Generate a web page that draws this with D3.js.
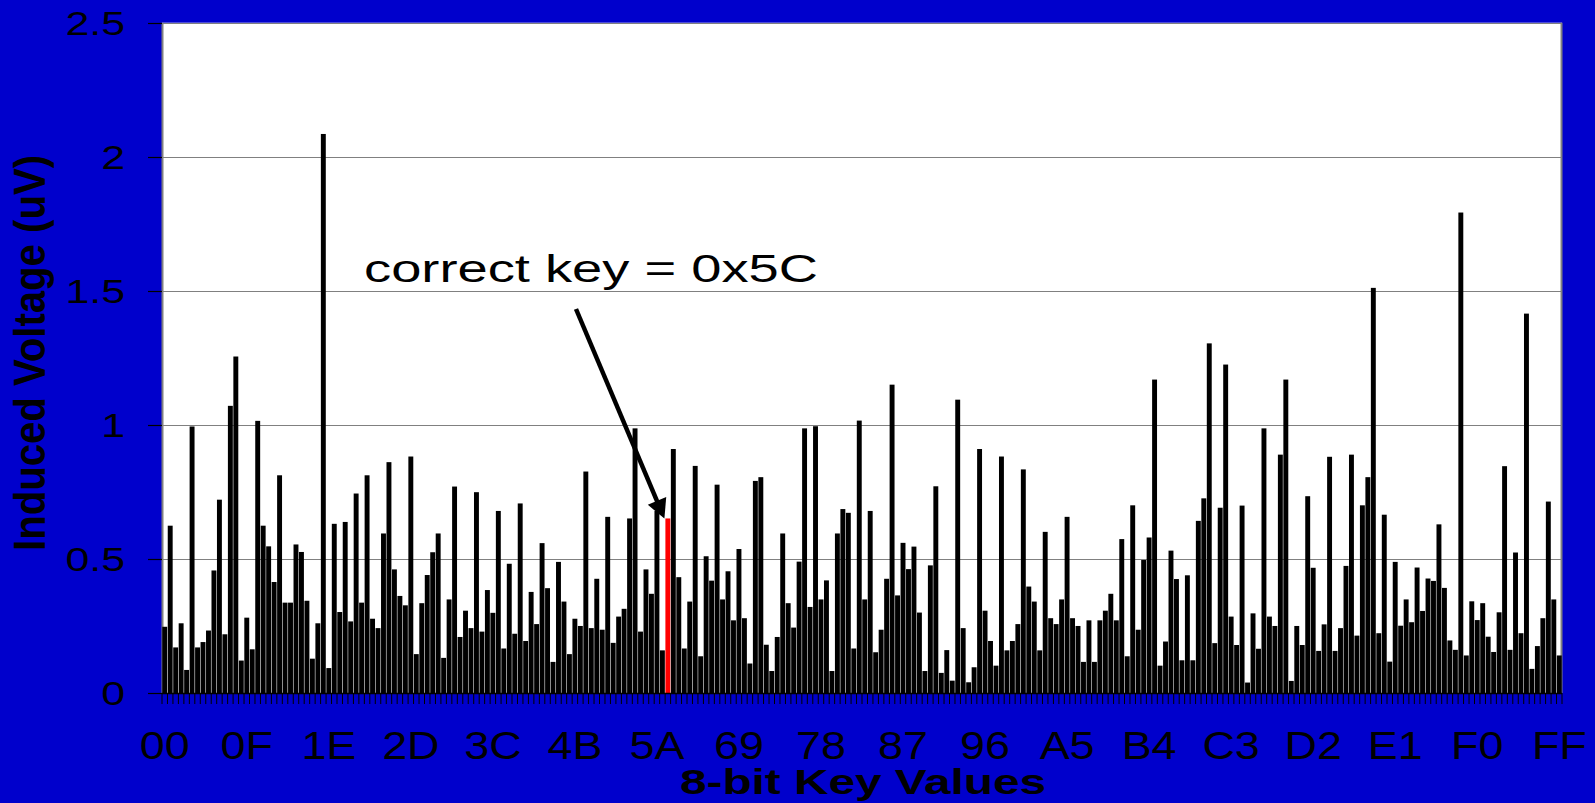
<!DOCTYPE html>
<html>
<head>
<meta charset="utf-8">
<script src="https://cdn.jsdelivr.net/npm/d3@7"></script>
<style>
  html, body { margin: 0; padding: 0; background: #0000cc; }
  svg { display: block; }
  text { font-family: "Liberation Sans", Arial, sans-serif; }
</style>
</head>
<body>
<svg width="1595" height="803"></svg>
<script>
// induced voltage (uV) per 8-bit key guess
const voltage00to3F = [
    0.247, 0.624, 0.17, 0.26, 0.086, 0.994, 0.17, 0.19, 0.233, 0.457,
    0.721, 0.219, 1.071, 1.255, 0.121, 0.281, 0.163, 1.015, 0.624, 0.547,
    0.414, 0.812, 0.337, 0.337, 0.554, 0.526, 0.344, 0.128, 0.26, 2.085,
    0.093, 0.631, 0.302, 0.638, 0.267, 0.744, 0.337, 0.812, 0.277, 0.242,
    0.595, 0.861, 0.461, 0.362, 0.327, 0.882, 0.145, 0.335, 0.44, 0.525,
    0.595, 0.131, 0.349, 0.77, 0.209, 0.307, 0.242, 0.749, 0.229, 0.384,
    0.299, 0.679, 0.166, 0.482
];
const voltage40to7F = [
    0.221, 0.707, 0.194, 0.377, 0.257, 0.559, 0.391, 0.116, 0.489, 0.341,
    0.145, 0.277, 0.25, 0.826, 0.242, 0.426, 0.236, 0.657, 0.187, 0.285,
    0.314, 0.651, 0.987, 0.229, 0.461, 0.37, 0.679, 0.159, 0.651, 0.91,
    0.432, 0.166, 0.341, 0.847, 0.137, 0.51, 0.419, 0.777, 0.349, 0.454,
    0.271, 0.537, 0.279, 0.11, 0.791, 0.805, 0.18, 0.082, 0.209, 0.595,
    0.335, 0.244, 0.49, 0.987, 0.321, 0.995, 0.349, 0.42, 0.082, 0.595,
    0.686, 0.672, 0.166, 1.016
];
const voltage80toBF = [
    0.349, 0.679, 0.152, 0.236, 0.426, 1.15, 0.364, 0.56, 0.462, 0.546,
    0.3, 0.082, 0.476, 0.771, 0.075, 0.16, 0.046, 1.094, 0.242, 0.04,
    0.096, 0.91, 0.307, 0.194, 0.102, 0.882, 0.159, 0.194, 0.257, 0.834,
    0.397, 0.341, 0.159, 0.601, 0.279, 0.257, 0.349, 0.657, 0.279, 0.25,
    0.116, 0.271, 0.116, 0.271, 0.307, 0.37, 0.271, 0.574, 0.137, 0.7,
    0.236, 0.496, 0.58, 1.169, 0.102, 0.192, 0.531, 0.425, 0.122, 0.439,
    0.122, 0.642, 0.726, 1.304
];
const voltageC0toFF = [
    0.186, 0.691, 1.225, 0.285, 0.179, 0.699, 0.039, 0.297, 0.165, 0.987,
    0.285, 0.25, 0.889, 1.169, 0.045, 0.25, 0.179, 0.734, 0.467, 0.157,
    0.256, 0.881, 0.157, 0.242, 0.474, 0.889, 0.214, 0.70, 0.805, 1.511,
    0.223, 0.665, 0.117, 0.489, 0.251, 0.349, 0.264, 0.468, 0.306, 0.427,
    0.418, 0.629, 0.392, 0.196, 0.161, 1.792, 0.14, 0.342, 0.272, 0.335,
    0.21, 0.153, 0.301, 0.846, 0.161, 0.524, 0.223, 1.415, 0.09, 0.175,
    0.279, 0.714, 0.349, 0.14
];
const xTickLabels = ["00", "0F", "1E", "2D", "3C", "4B", "5A", "69", "78",
                     "87", "96", "A5", "B4", "C3", "D2", "E1", "F0", "FF"];
const yTicks = [0, 0.5, 1, 1.5, 2, 2.5];
const yTickLabels = ["0", "0.5", "1", "1.5", "2", "2.5"];
const correctKey = "5C";

const values = voltage00to3F.concat(voltage40to7F, voltage80toBF, voltageC0toFF);
const keys = values.map((v, i) => i.toString(16).toUpperCase().padStart(2, "0"));
const data = keys.map((k, i) => ({ key: k, value: values[i] }));

const svg = d3.select("svg");
const plotLeft = 162, plotRight = 1562, plotTop = 22.7, plotBottom = 693;

const x = d3.scaleBand()
    .domain(keys)
    .range([plotLeft, plotRight])
    .paddingInner(0.1)
    .paddingOuter(0.05);

const y = d3.scaleLinear()
    .domain([0, 2.5])
    .range([plotBottom, plotTop]);

// plot area
svg.append("rect")
    .attr("x", plotLeft).attr("y", plotTop)
    .attr("width", plotRight - plotLeft).attr("height", plotBottom - plotTop)
    .attr("fill", "#ffffff");

svg.append("g")
    .selectAll("line")
    .data(yTicks.filter(d => d > 0))
    .enter().append("line")
    .attr("x1", plotLeft).attr("x2", plotRight)
    .attr("y1", d => Math.round(y(d)) + 0.5)
    .attr("y2", d => Math.round(y(d)) + 0.5)
    .attr("stroke", "#808080")
    .attr("stroke-width", 1.2);

svg.append("line")
    .attr("x1", plotLeft + 0.5).attr("x2", plotLeft + 0.5)
    .attr("y1", plotTop).attr("y2", plotBottom)
    .attr("stroke", "#808080").attr("stroke-width", 2);
svg.append("line")
    .attr("x1", plotRight - 0.5).attr("x2", plotRight - 0.5)
    .attr("y1", plotTop).attr("y2", plotBottom)
    .attr("stroke", "#808080").attr("stroke-width", 2);

// bars
svg.append("g")
    .selectAll("rect")
    .data(data)
    .enter().append("rect")
    .attr("x", d => x(d.key))
    .attr("width", x.bandwidth())
    .attr("y", d => y(d.value))
    .attr("height", d => y(0) - y(d.value))
    .attr("fill", d => d.key === correctKey ? "#ff0000" : "#000000");

// x axis line + ticks at category boundaries
svg.append("line")
    .attr("x1", plotLeft).attr("x2", plotRight)
    .attr("y1", plotBottom + 0.5).attr("y2", plotBottom + 0.5)
    .attr("stroke", "#000").attr("stroke-width", 1.5);

const step = x.step();
svg.append("g")
    .selectAll("line")
    .data(d3.range(keys.length + 1))
    .enter().append("line")
    .attr("x1", i => plotLeft + i * step)
    .attr("x2", i => plotLeft + i * step)
    .attr("y1", plotBottom)
    .attr("y2", plotBottom + 11)
    .attr("stroke", "#000")
    .attr("stroke-width", 1);

// x tick labels
svg.append("g")
    .selectAll("text")
    .data(xTickLabels)
    .enter().append("text")
    .attr("transform", d => `translate(${x(d) + x.bandwidth() / 2},759) scale(1.18,1)`)
    .attr("text-anchor", "middle")
    .style("font-size", "38px")
    .style("fill", "#000")
    .text(d => d);

// y ticks + labels
svg.append("g")
    .selectAll("line")
    .data(yTicks)
    .enter().append("line")
    .attr("x1", plotLeft - 14).attr("x2", plotLeft)
    .attr("y1", d => Math.round(y(d)) + 0.5)
    .attr("y2", d => Math.round(y(d)) + 0.5)
    .attr("stroke", "#000")
    .attr("stroke-width", 1.2);

svg.append("g")
    .selectAll("text")
    .data(yTicks)
    .enter().append("text")
    .attr("transform", d => `translate(125,${y(d) + 12}) scale(1.28,1)`)
    .attr("text-anchor", "end")
    .style("font-size", "33.5px")
    .style("fill", "#000")
    .text((d, i) => yTickLabels[i]);

// axis titles
svg.append("text")
    .attr("x", 863)
    .attr("y", 794)
    .attr("text-anchor", "middle")
    .attr("textLength", 366)
    .attr("lengthAdjust", "spacingAndGlyphs")
    .style("font-size", "34.5px")
    .style("font-weight", "bold")
    .style("fill", "#000")
    .text("8-bit Key Values");

svg.append("text")
    .attr("transform", "translate(45,353) rotate(-90) scale(1,1.12)")
    .attr("text-anchor", "middle")
    .attr("textLength", 396)
    .attr("lengthAdjust", "spacingAndGlyphs")
    .style("font-size", "39px")
    .style("font-weight", "bold")
    .style("fill", "#000")
    .text("Induced Voltage (uV)");

// annotation
svg.append("text")
    .attr("x", 364)
    .attr("y", 282)
    .attr("textLength", 454)
    .attr("lengthAdjust", "spacingAndGlyphs")
    .style("font-size", "38px")
    .style("fill", "#000")
    .text("correct key = 0x" + correctKey);

const hit = data.find(d => d.key === correctKey);
const tipX = x(hit.key) - 1, tipY = y(hit.value);
const startX = 576, startY = 309;
const dx = tipX - startX, dy = tipY - startY;
const len = Math.hypot(dx, dy);
const ux = dx / len, uy = dy / len;
const headLen = 19, headHalf = 10;
const bx = tipX - ux * headLen, by = tipY - uy * headLen;

svg.append("line")
    .attr("x1", startX).attr("y1", startY)
    .attr("x2", bx + ux * 2).attr("y2", by + uy * 2)
    .attr("stroke", "#000")
    .attr("stroke-width", 4.5);

svg.append("polygon")
    .attr("points", [
        [tipX, tipY],
        [bx - uy * headHalf, by + ux * headHalf],
        [bx + uy * headHalf, by - ux * headHalf]
    ].map(p => p.join(",")).join(" "))
    .attr("fill", "#000");
</script>
</body>
</html>
